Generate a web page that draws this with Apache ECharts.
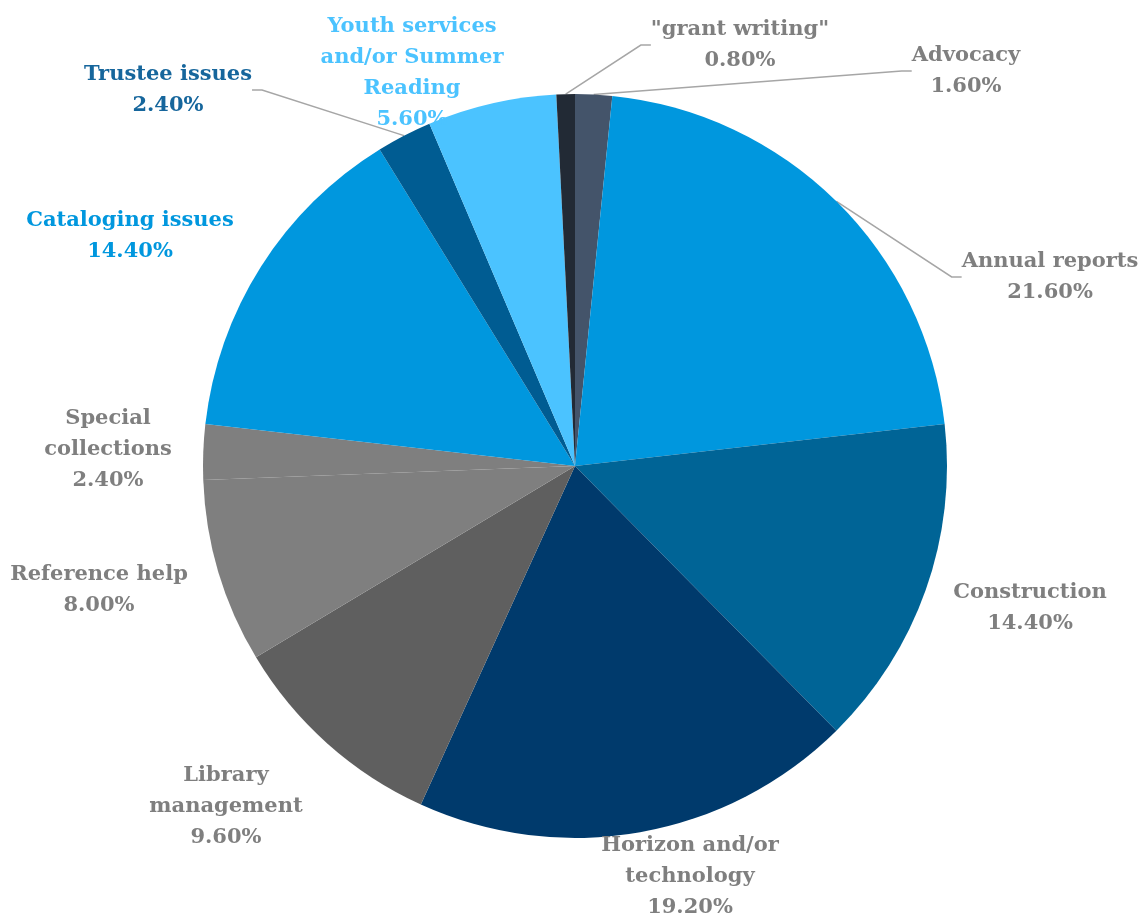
<!DOCTYPE html>
<html>
<head>
<meta charset="utf-8">
<script src="https://cdn.jsdelivr.net/npm/echarts@6/dist/echarts.min.js"></script>
<style>
  html, body { margin: 0; padding: 0; background: #ffffff; }
  #chart { width: 1145px; height: 918px; }
</style>
</head>
<body>
<div id="chart"></div>
<script>
// Topic shares (percent), clockwise from 12 o'clock
const categories = [
  'Advocacy',
  'Annual reports',
  'Construction',
  'Horizon and/or\ntechnology',
  'Library\nmanagement',
  'Reference help',
  'Special\ncollections',
  'Cataloging issues',
  'Trustee issues',
  'Youth services\nand/or Summer\nReading',
  '"grant writing"'
];
const shares = [1.6, 21.6, 14.4, 19.2, 9.6, 8.0, 2.4, 14.4, 2.4, 5.6, 0.8];

// Slice fills and label colours
const sliceColors = ['#44546a', '#0097de', '#006496', '#003a6c', '#5f5f5f', '#7f7f7f',
                     '#7f7f7f', '#0097de', '#005c92', '#4bc3ff', '#222a35'];
const labelColors = ['#7f7f7f', '#7f7f7f', '#7f7f7f', '#7f7f7f', '#7f7f7f', '#7f7f7f',
                     '#7f7f7f', '#0097de', '#16669c', '#4bc3ff', '#7f7f7f'];
// Which labels get a leader line
const withLeader = [true, true, false, false, false, false, false, false, true, false, true];
// Label block centres (px)
const labelSpots = [
  [966, 71], [1050, 277], [1030, 608], [690, 877], [226, 807], [99, 590],
  [108, 450], [130, 236], [168, 90], [412, 73], [740, 45]
];

const chart = echarts.init(document.getElementById('chart'), null, { renderer: 'canvas' });

chart.setOption({
  animation: false,
  backgroundColor: '#ffffff',
  series: [{
    type: 'pie',
    center: [575, 466],
    radius: 372,
    startAngle: 90,
    clockwise: true,
    avoidLabelOverlap: false,
    itemStyle: { borderWidth: 0 },
    label: {
      show: true,
      position: 'outside',
      fontFamily: 'DejaVu Serif',
      fontWeight: 'bold',
      fontSize: 21,
      lineHeight: 31,
      align: 'center',
      formatter: p => p.name + '\n' + p.value.toFixed(2) + '%'
    },
    labelLine: {
      show: true,
      length: 10,
      length2: 10,
      lineStyle: { color: '#a6a6a6', width: 1.5 }
    },
    labelLayout: params => {
      const s = labelSpots[params.dataIndex];
      return {
        x: s[0],
        y: s[1],
        align: 'center',
        verticalAlign: 'middle'
      };
    },
    data: categories.map((name, i) => ({
      name: name,
      value: shares[i],
      itemStyle: { color: sliceColors[i] },
      label: { color: labelColors[i] },
      labelLine: { show: withLeader[i] }
    }))
  }]
});
</script>
</body>
</html>
